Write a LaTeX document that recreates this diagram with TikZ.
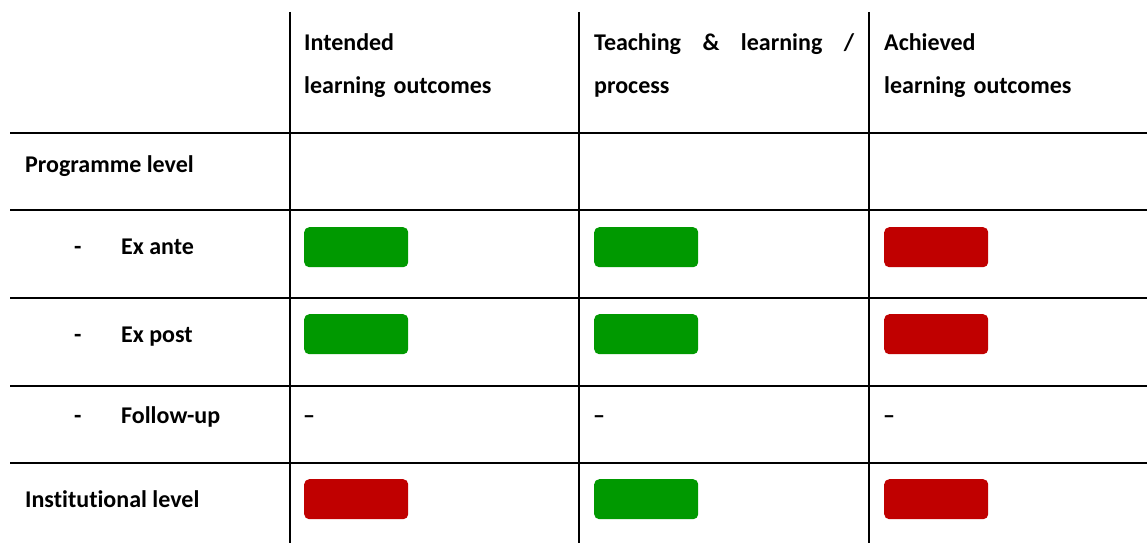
\documentclass[tikz,border=0pt]{standalone}
\usepackage{fontspec}
\setmainfont[Ligatures=NoCommon]{Carlito}
\begin{document}
\begin{tikzpicture}[x=1pt,y=-1pt,
  rule/.style={line width=2pt,black},
  lbl/.style={anchor=base west,inner sep=0pt,font={\fontsize{24}{43}\selectfont\bfseries}},
  hdr/.style={anchor=base west,inner sep=0pt,align=left,font={\fontsize{24}{43}\selectfont\bfseries}},
  okbox/.style={anchor=north west,inner sep=0pt,minimum width=104pt,minimum height=40pt,rounded corners=5pt,fill=okgreen},
  badbox/.style={anchor=north west,inner sep=0pt,minimum width=104pt,minimum height=40pt,rounded corners=5pt,fill=badred}]
\definecolor{okgreen}{RGB}{0,153,0}
\definecolor{badred}{RGB}{192,0,0}
\useasboundingbox (0,0) rectangle (1147,543);
% grid
\foreach \y in {133,210,298,386,463} \draw[rule] (10,\y) -- (1147,\y);
\foreach \x in {290,579,869} \draw[rule] (\x,12) -- (\x,543);
% header
\node[hdr,text width=260pt] (h1) at (304,51) {Intended\\learning outcomes};
\node[hdr,text width=260pt] (h2) at (594,51) {Teaching\hfill\&\hfill learning\hfill/\\process};
\node[hdr,text width=250pt] (h3) at (884,51) {Achieved\\learning outcomes};
% row labels
\node[lbl] (r1) at (25,172) {Programme level};
\node[lbl] (d2) at (74,254) {-};
\node[lbl] (r2) at (121,254) {Ex ante};
\node[lbl] (d3) at (74,342) {-};
\node[lbl] (r3) at (121,342) {Ex post};
\node[lbl] (d4) at (74,423) {-};
\node[lbl] (r4) at (121,423) {Follow-up};
\node[lbl] (r5) at (25,507) {Institutional level};
% cells
\node[okbox] (a1) at (304,227) {};
\node[okbox] (a2) at (594,227) {};
\node[badbox] (a3) at (884,227) {};
\node[okbox] (b1) at (304,314) {};
\node[okbox] (b2) at (594,314) {};
\node[badbox] (b3) at (884,314) {};
\node[lbl] (c1) at (303,423) {–};
\node[lbl] (c2) at (593,423) {–};
\node[lbl] (c3) at (883,423) {–};
\node[badbox] (e1) at (304,479) {};
\node[okbox] (e2) at (594,479) {};
\node[badbox] (e3) at (884,479) {};
\end{tikzpicture}
\end{document}
